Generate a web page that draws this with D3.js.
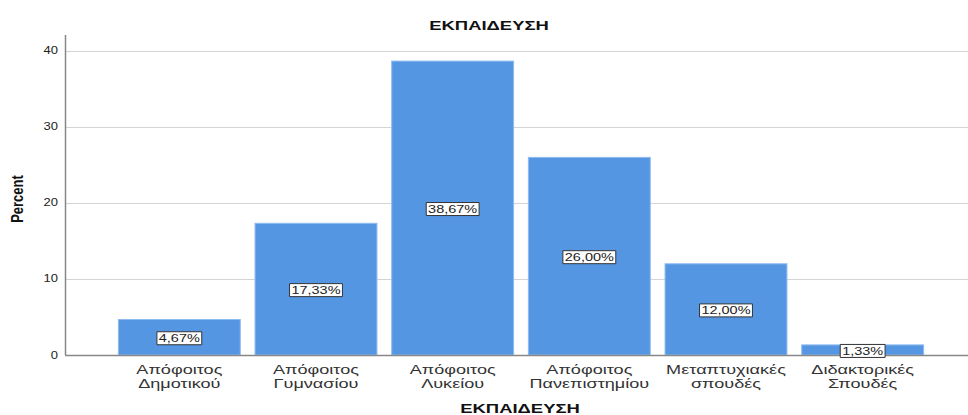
<!DOCTYPE html>
<html>
<head>
<meta charset="utf-8">
<script src="https://cdn.jsdelivr.net/npm/d3@7"></script>
<style>
  body { margin: 0; background: #fff; }
  text { font-family: "Liberation Sans", Arial, sans-serif; }
</style>
</head>
<body>
<svg id="chart" width="968" height="415"></svg>
<script>
// categories (two-line labels) and percentages
var categories = [
    ["Απόφοιτος", "Δημοτικού"],
    ["Απόφοιτος", "Γυμνασίου"],
    ["Απόφοιτος", "Λυκείου"],
    ["Απόφοιτος", "Πανεπιστημίου"],
    ["Μεταπτυχιακές", "σπουδές"],
    ["Διδακτορικές", "Σπουδές"]
];
var percents = [4.67, 17.33, 38.67, 26.00, 12.00, 1.33];
var yTicks = [0, 10, 20, 30, 40];

var svg = d3.select("#chart");
var axisLeft = 65, plotRight = 968, plotTop = 35, plotBottom = 355;

// the source picture is horizontally stretched, so text is too
var stretchTitle = 1.42, stretchCat = 1.34, stretchVal = 1.45, stretchTick = 1.3;

var keys = categories.map(function(c) { return c.join(" "); });

var x = d3.scaleBand()
    .domain(keys)
    .range([111, 931])
    .paddingInner(0.108)
    .paddingOuter(0.054);

var y = d3.scaleLinear()
    .domain([0, 42.1])
    .range([plotBottom, plotTop]);

function stretchedText(px, py, s) {
    return svg.append("g")
        .attr("transform", "translate(" + px + "," + py + ") scale(" + s + ",1)")
        .append("text")
        .attr("text-anchor", "middle");
}

// title
stretchedText(489, 30, stretchTitle)
    .attr("font-size", "13px")
    .attr("font-weight", "bold")
    .attr("fill", "#111")
    .text("ΕΚΠΑΙΔΕΥΣΗ");

// gridlines
svg.append("g")
    .selectAll("line")
    .data(yTicks.filter(function(d) { return d > 0; }))
    .enter().append("line")
    .attr("x1", axisLeft)
    .attr("x2", plotRight)
    .attr("y1", function(d) { return y(d) + 0.5; })
    .attr("y2", function(d) { return y(d) + 0.5; })
    .attr("stroke", "#d4d4d4")
    .attr("stroke-width", 1);

// y tick labels
svg.append("g")
    .selectAll("g")
    .data(yTicks)
    .enter().append("g")
    .attr("transform", function(d) { return "translate(" + (axisLeft - 7) + "," + y(d) + ") scale(" + stretchTick + ",1)"; })
    .append("text")
    .attr("text-anchor", "end")
    .attr("dy", "0.35em")
    .attr("font-size", "10px")
    .attr("fill", "#222")
    .text(function(d) { return d; });

svg.append("g")
    .attr("transform", "translate(23," + ((plotTop + plotBottom) / 2 + 4) + ") scale(1.3,1) rotate(-90)")
    .append("text")
    .attr("text-anchor", "middle")
    .attr("font-size", "13px")
    .attr("font-weight", "bold")
    .attr("fill", "#111")
    .text("Percent");

// bars
svg.append("g")
    .selectAll("rect")
    .data(percents)
    .enter().append("rect")
    .attr("x", function(d, i) { return x(keys[i]); })
    .attr("y", function(d) { return y(d); })
    .attr("width", x.bandwidth())
    .attr("height", function(d) { return y(0) - y(d); })
    .attr("fill", "#5596e3")
    .attr("stroke", "#8fbcf0")
    .attr("stroke-width", 1);

// axis lines
svg.append("line")
    .attr("x1", axisLeft).attr("x2", plotRight)
    .attr("y1", plotBottom + 0.5).attr("y2", plotBottom + 0.5)
    .attr("stroke", "#888").attr("stroke-width", 1.5);
svg.append("line")
    .attr("x1", axisLeft + 0.5).attr("x2", axisLeft + 0.5)
    .attr("y1", plotTop).attr("y2", plotBottom)
    .attr("stroke", "#888").attr("stroke-width", 1.5);

// value labels
var labels = svg.append("g")
    .selectAll("g")
    .data(percents)
    .enter().append("g")
    .attr("transform", function(d, i) {
        var cx = x(keys[i]) + x.bandwidth() / 2;
        var cy = (y(d) + y(0)) / 2 + 1;
        return "translate(" + cx + "," + cy + ") scale(" + stretchVal + ",1)";
    });

labels.append("text")
    .attr("text-anchor", "middle")
    .attr("dy", "0.36em")
    .attr("font-size", "10px")
    .attr("fill", "#222")
    .text(function(d) { return d.toFixed(2).replace(".", ",") + "%"; });

labels.each(function() {
    var g = d3.select(this);
    var bb = g.select("text").node().getBBox();
    g.insert("rect", "text")
        .attr("x", bb.x - 1.3)
        .attr("y", -6.5)
        .attr("width", bb.width + 2.6)
        .attr("height", 13)
        .attr("fill", "#fff")
        .attr("stroke", "#333")
        .attr("stroke-width", 1)
        .attr("vector-effect", "non-scaling-stroke");
});

// category labels
var cats = svg.append("g")
    .selectAll("g")
    .data(categories)
    .enter().append("g")
    .attr("transform", function(d, i) {
        return "translate(" + (x(keys[i]) + x.bandwidth() / 2) + ",374) scale(" + stretchCat + ",1)";
    });
cats.selectAll("text")
    .data(function(d) { return d; })
    .enter().append("text")
    .attr("text-anchor", "middle")
    .attr("y", function(d, j) { return j * 14; })
    .attr("font-size", "13.5px")
    .attr("fill", "#333")
    .text(function(d) { return d; });

// x axis title
stretchedText(520, 413, stretchTitle)
    .attr("font-size", "13px")
    .attr("font-weight", "bold")
    .attr("fill", "#111")
    .text("ΕΚΠΑΙΔΕΥΣΗ");
</script>
</body>
</html>
